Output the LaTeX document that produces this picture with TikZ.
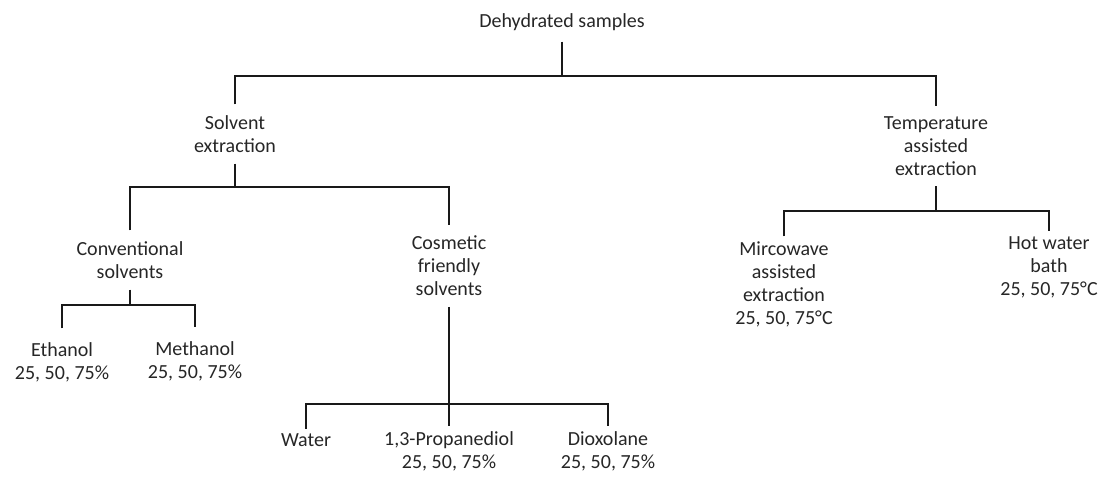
\documentclass[tikz,border=0pt]{standalone}
\usepackage{fontspec}
\setmainfont{Carlito}
\begin{document}
\begin{tikzpicture}[
    x=0.5pt,
    y=-0.5pt,
    link/.style={draw=black!90,line width=0.8pt},
    lbl/.style={font=\fontsize{10}{11.5}\selectfont,text=black!85,
      align=center,inner sep=2pt,outer sep=3.5pt},
    leaf/.style={lbl,outer sep=0.5pt}
  ]
    \useasboundingbox (0,0) rectangle (1105,484);

    % labels
    \node[lbl] (root) at (562,22) {Dehydrated samples};
    \node[lbl] (solv) at (235,134) {Solvent\\extraction};
    \node[lbl] (temp) at (936,146) {Temperature\\assisted\\extraction};
    \node[lbl] (conv) at (130,260) {Conventional\\solvents};
    \node[lbl] (cosm) at (449,266) {Cosmetic\\friendly\\solvents};
    \node[leaf] (mirc) at (784,284)
      {Mircowave\\assisted\\extraction\\25, 50, 75°C};
    \node[leaf] (hotw) at (1049,267) {Hot water\\bath\\25, 50, 75°C};
    \node[lbl,outer sep=5pt] (etha) at (62,362) {Ethanol\\25, 50, 75\%};
    \node[lbl,outer sep=5pt] (meth) at (195,361) {Methanol\\25, 50, 75\%};
    \node[leaf] (watr) at (306,440) {Water};
    \node[leaf] (prop) at (449,451) {1,3-Propanediol\\25, 50, 75\%};
    \node[leaf] (diox) at (608,451) {Dioxolane\\25, 50, 75\%};

    % branch levels
    \coordinate (b1) at (562,76);
    \coordinate (b2) at (235,187);
    \coordinate (b3) at (130,305);
    \coordinate (b4) at (449,404);
    \coordinate (b5) at (936,211);

    \draw[link] (root) -- (b1);
    \draw[link] (solv) |- (b1) -| (temp);
    \draw[link] (solv) -- (b2);
    \draw[link] (conv) |- (b2) -| (cosm);
    \draw[link] (conv) -- (b3);
    \draw[link] (etha) |- (b3) -| (meth);
    \draw[link] (cosm) -- (b4);
    \draw[link] (watr) |- (b4) -| (diox);
    \draw[link] (b4) -- (prop);
    \draw[link] (temp) -- (b5);
    \draw[link] (mirc) |- (b5) -| (hotw);
  \end{tikzpicture}
\end{document}
